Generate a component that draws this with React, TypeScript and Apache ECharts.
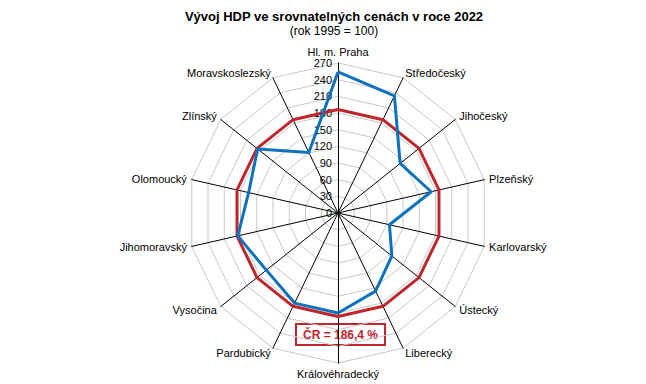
import React, { useEffect, useRef } from "react";
import * as echarts from "echarts";

const titleText = "Vývoj HDP ve srovnatelných cenách v roce 2022";
const subtitleText = "(rok 1995 = 100)";

// Regions in clockwise order starting from the top
const regions = [
  "Hl. m. Praha",
  "Středočeský",
  "Jihočeský",
  "Plzeňský",
  "Karlovarský",
  "Ústecký",
  "Liberecký",
  "Královéhradecký",
  "Pardubický",
  "Vysočina",
  "Jihomoravský",
  "Olomoucký",
  "Zlínský",
  "Moravskoslezský",
];

const regionValues = [254, 234, 143, 172, 95, 124, 156, 180, 180, 165, 185, 165, 185, 121];
const crValue = 186.4;

const axisMin = 0;
const axisMax = 270;
const axisInterval = 30;

export default function App() {
  const ref = useRef<HTMLDivElement>(null);

  useEffect(() => {
    document.body.style.margin = "0";
    if (!ref.current) return;
    const chart = echarts.init(ref.current, null, { renderer: "svg" });

    // ECharts radar lays indicators out counter-clockwise; reverse all but first
    const order = [0, ...regions.slice(1).map((_, i) => regions.length - 1 - i)];
    const indicator = order.map((idx, k) => ({
      name: regions[idx],
      min: axisMin,
      max: axisMax,
      ...(k === 0
        ? {
            axisLabel: {
              show: true,
              color: "#000",
              fontSize: 11,
              fontFamily: "Liberation Sans, Arial, sans-serif",
              margin: 6,
              showMaxLabel: true,
              showMinLabel: true,
            },
          }
        : {}),
    }));
    const regionData = order.map((idx) => regionValues[idx]);
    const crData = order.map(() => crValue);
    const crLabel = `ČR = ${String(crValue).replace(".", ",")} %`;

    chart.setOption({
      animation: false,
      backgroundColor: "#ffffff",
      title: {
        text: titleText,
        subtext: subtitleText,
        left: 329,
        textAlign: "center",
        top: 5,
        itemGap: 2,
        textStyle: {
          fontFamily: "Liberation Sans, Arial, sans-serif",
          fontSize: 13,
          fontWeight: "bold",
          color: "#000",
        },
        subtextStyle: {
          fontFamily: "Liberation Sans, Arial, sans-serif",
          fontSize: 12,
          color: "#000",
        },
      },
      radar: {
        center: [338, 213],
        radius: 150,
        startAngle: 90,
        splitNumber: (axisMax - axisMin) / axisInterval,
        shape: "polygon",
        nameGap: 5,
        indicator,
        axisName: {
          color: "#000",
          fontSize: 11,
          fontFamily: "Liberation Sans, Arial, sans-serif",
        },
        axisLine: { lineStyle: { color: "#000", width: 1 } },
        splitLine: { lineStyle: { color: "#c8c8c8", width: 1 } },
        splitArea: { show: false },
        axisTick: { show: false },
        axisLabel: { show: false },
      },
      series: [
        {
          type: "radar",
          symbol: "none",
          data: [
            {
              value: crData,
              name: "ČR",
              lineStyle: { color: "#c0252b", width: 3 },
              itemStyle: { color: "#c0252b" },
            },
            {
              value: regionData,
              name: "Kraje",
              lineStyle: { color: "#0b72bb", width: 3 },
              itemStyle: { color: "#0b72bb" },
            },
          ],
        },
      ],
      graphic: [
        {
          type: "group",
          left: 295,
          top: 323,
          children: [
            {
              type: "rect",
              shape: { x: 0, y: 0, width: 89, height: 21 },
              style: { fill: "#fff", stroke: "#c0252b", lineWidth: 2 },
            },
            {
              type: "text",
              style: {
                x: 44.5,
                y: 10.5,
                text: crLabel,
                align: "center",
                verticalAlign: "middle",
                fill: "#c0252b",
                fontSize: 12,
                fontWeight: "bold",
                fontFamily: "Liberation Sans, Arial, sans-serif",
              },
            },
          ],
        },
      ],
    });

    return () => chart.dispose();
  }, []);

  return <div ref={ref} style={{ width: 646, height: 384 }} />;
}
